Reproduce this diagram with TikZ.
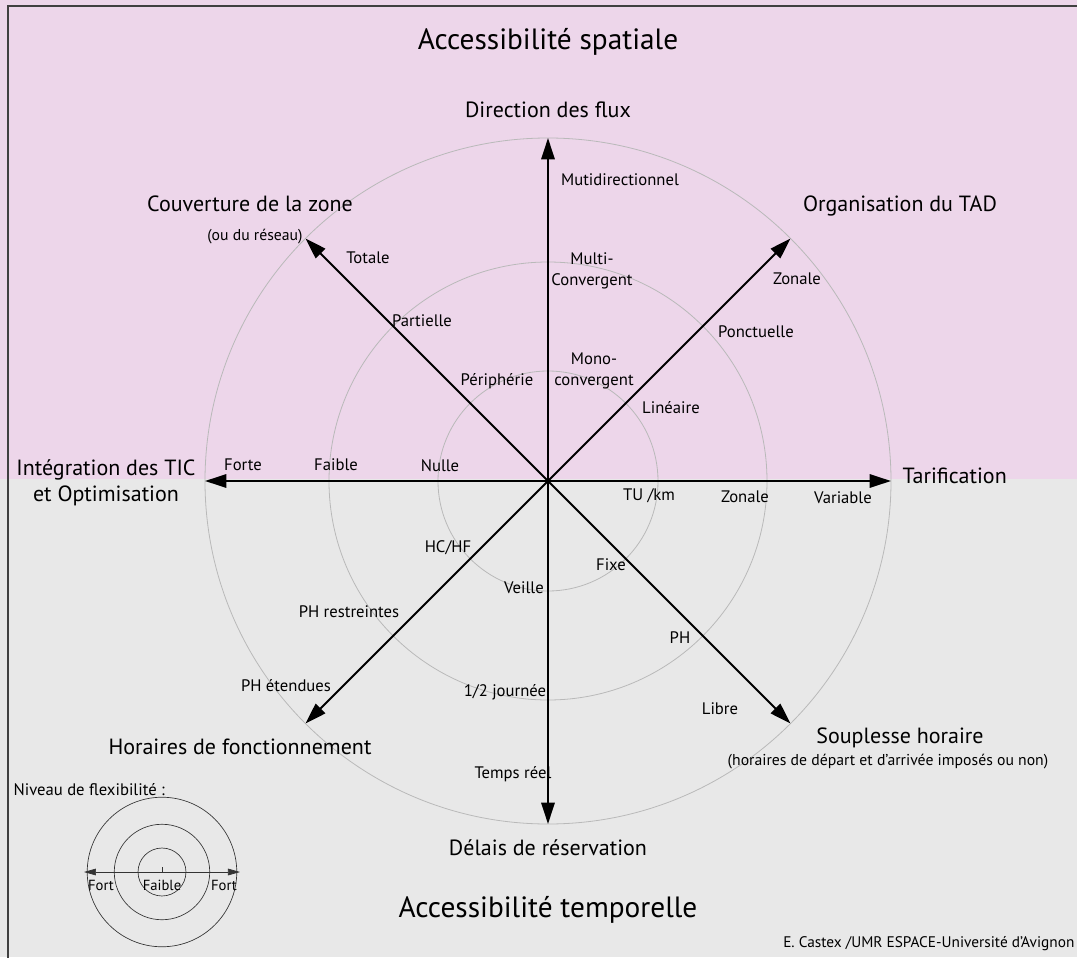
\documentclass[tikz,border=0pt]{standalone}
\usepackage{fontspec}
\setmainfont{PT Sans}
\usetikzlibrary{arrows.meta}

\definecolor  {spatialColor}{RGB}{237, 214, 234}
\definecolor {temporalColor}{RGB}{232, 232, 232}
\definecolor     {ringColor}{RGB}{185, 185, 185}
\definecolor     {axisColor}{RGB}{  0,   0,   0}
\tikzset{
  font size/.style 2 args={font={\fontsize{#1}{#2}\selectfont}}}

\begin{document}
\begin{tikzpicture}[
  x=0.75pt, y=0.75pt,
  radar ring/.style  ={draw=ringColor, line width=0.6pt},
  radar axis/.style  ={draw=axisColor, line width=1.5pt, -{Triangle[length=16pt, width=10pt]}},
  big title/.style   ={font size={22}{26}},
  axis title/.style  ={font size={16.5}{19.5}, align=center},
  axis sub/.style    ={font size={11.8}{14}},
  level label/.style ={font size={12.5}{15.5}, align=center, inner sep=1pt},
  legend ring/.style ={draw=black!80, line width=0.5pt},
  legend axis/.style ={draw=black!80, line width=0.5pt, {Triangle[length=9pt, width=5pt]}-{Triangle[length=9pt, width=5pt]}},
  legend label/.style={font size={11}{13}, inner sep=1pt},
]
%%%%%%%%%%%%%%%%%%%%%%%%%%%%%%%%%%%%%%%%%%%%%%%%%%%%%%%%%%%%%%%%%%%%%%%%%%%%%%%%%%%%%%%%%
%
%   SETTINGS
%
%%%%%%%%%%%%%%%%%%%%%%%%%%%%%%%%%%%%%%%%%%%%%%%%%%%%%%%%%%%%%%%%%%%%%%%%%%%%%%%%%%%%%%%%%
\newcommand*\radiusStepA{110}
\newcommand*\radiusStepB{219}
\newcommand*\radiusMax{343}

\newcommand*\legendScale{0.218} % legend rings relative to the radar

%%%%%%%%%%%%%%%%%%%%%%%%%%%%%%%%%%%%%%%%%%%%%%%%%%%%%%%%%%%%%%%%%%%%%%%%%%%%%%%%%%%%%%%%%
%
%   BACKGROUND
%
%%%%%%%%%%%%%%%%%%%%%%%%%%%%%%%%%%%%%%%%%%%%%%%%%%%%%%%%%%%%%%%%%%%%%%%%%%%%%%%%%%%%%%%%%
\useasboundingbox (-548,481) rectangle (529,-476);
\fill[spatialColor]  (-548,481) rectangle (529,2);
\fill[temporalColor] (-548,2) rectangle (529,-476);
\draw[line width=1.2pt, black!75] (-540,-480) |- (535,475);

%%%%%%%%%%%%%%%%%%%%%%%%%%%%%%%%%%%%%%%%%%%%%%%%%%%%%%%%%%%%%%%%%%%%%%%%%%%%%%%%%%%%%%%%%
%
%   RADAR
%
%%%%%%%%%%%%%%%%%%%%%%%%%%%%%%%%%%%%%%%%%%%%%%%%%%%%%%%%%%%%%%%%%%%%%%%%%%%%%%%%%%%%%%%%%
\coordinate (center) at (0,0);

\foreach \radius in {\radiusStepA, \radiusStepB, \radiusMax}
  \draw[radar ring] (center) circle[radius=\radius];

\foreach \angle/\name in {90/flux, 45/tad, 0/tarif, -45/souplesse,
                          -90/delais, -135/horaires, 180/tic, 135/zone}
{
  \coordinate (\name) at (\angle:\radiusMax);
  \draw[radar axis] (center) -- (\name);
}

%% axis titles
\node[big title] (spatial)  at (0,439)  {Accessibilité spatiale};
\node[big title] (temporal) at (0,-429) {Accessibilité temporelle};

\node[axis title] (fluxTitle)      at (0,371)     {Direction des flux};
\node[axis title] (zoneTitle)      at (-298,277)  {Couverture de la zone};
\node[axis sub]   (zoneSub)        at (-293,244)  {(ou du réseau)};
\node[axis title] (tadTitle)       at (352,275)   {Organisation du TAD};
\node[axis title] (ticTitle)       at (-442,-2)   {Intégration des TIC\\et Optimisation};
\node[axis title, anchor=west] (tarifTitle) at (350,5) {Tarification};
\node[axis title] (horairesTitle)  at (-308,-266) {Horaires de fonctionnement};
\node[axis title] (souplesseTitle) at (352,-257)  {Souplesse horaire};
\node[axis sub]   (souplesseSub)   at (340,-281)  {(horaires de départ et d'arrivée imposés ou non)};
\node[axis title] (delaisTitle)    at (0,-367)    {Délais de réservation};

%% level labels
\node[level label] (fluxC) at (72,301)  {Mutidirectionnel};
\node[level label] (fluxB) at (44,210)  {Multi-\\Convergent};
\node[level label] (fluxA) at (46,110)  {Mono-\\convergent};

\node[level label] (zoneC) at (-180,223) {Totale};
\node[level label] (zoneB) at (-126,160) {Partielle};
\node[level label] (zoneA) at (-51,100)  {Périphérie};

\node[level label] (tadC) at (249,202) {Zonale};
\node[level label] (tadB) at (208,149) {Ponctuelle};
\node[level label] (tadA) at (123,73)  {Linéaire};

\node[level label] (ticC) at (-305,16) {Forte};
\node[level label] (ticB) at (-212,16) {Faible};
\node[level label] (ticA) at (-108,15) {Nulle};

\node[level label] (tarifA) at (101,-15) {TU /km};
\node[level label] (tarifB) at (197,-16) {Zonale};
\node[level label] (tarifC) at (295,-17) {Variable};

\node[level label] (horairesA) at (-100,-67) {HC/HF};
\node[level label] (horairesB) at (-199,-131) {PH restreintes};
\node[level label] (horairesC) at (-262,-205) {PH étendues};

\node[level label] (delaisA) at (-24,-107) {Veille};
\node[level label] (delaisB) at (-43,-211) {1/2 journée};
\node[level label] (delaisC) at (-35,-293) {Temps réel};

\node[level label] (souplesseA) at (63,-84)   {Fixe};
\node[level label] (souplesseB) at (132,-157) {PH};
\node[level label] (souplesseC) at (172,-228) {Libre};

%%%%%%%%%%%%%%%%%%%%%%%%%%%%%%%%%%%%%%%%%%%%%%%%%%%%%%%%%%%%%%%%%%%%%%%%%%%%%%%%%%%%%%%%%
%
%   LEGEND
%
%%%%%%%%%%%%%%%%%%%%%%%%%%%%%%%%%%%%%%%%%%%%%%%%%%%%%%%%%%%%%%%%%%%%%%%%%%%%%%%%%%%%%%%%%
\node[level label, anchor=west] (legendTitle) at (-536,-309) {Niveau de flexibilité :};

\coordinate (legendCenter) at (-386,-391);
\foreach \radius in {\radiusStepA, \radiusStepB, \radiusMax}
  \draw[legend ring] (legendCenter) circle[radius=\legendScale*\radius];

\coordinate (legendLeft)  at ([shift={(-78,0)}] legendCenter);
\coordinate (legendRight) at ([shift={(78,0)}] legendCenter);
\draw[legend axis] (legendLeft) -- (legendRight);
\draw[legend ring] (legendCenter) -- ++(0,5);

\node[legend label] (legendFortA)  at ([shift={(-61,-13)}] legendCenter) {Fort};
\node[legend label] (legendFaible) at ([shift={(0,-13)}] legendCenter)   {Faible};
\node[legend label] (legendFortB)  at ([shift={(62,-13)}] legendCenter)  {Fort};

\node[legend label, font size={11.5}{13}, anchor=east] (credit) at (528,-463) {E. Castex /UMR ESPACE-Université d'Avignon};

\end{tikzpicture}
\end{document}
